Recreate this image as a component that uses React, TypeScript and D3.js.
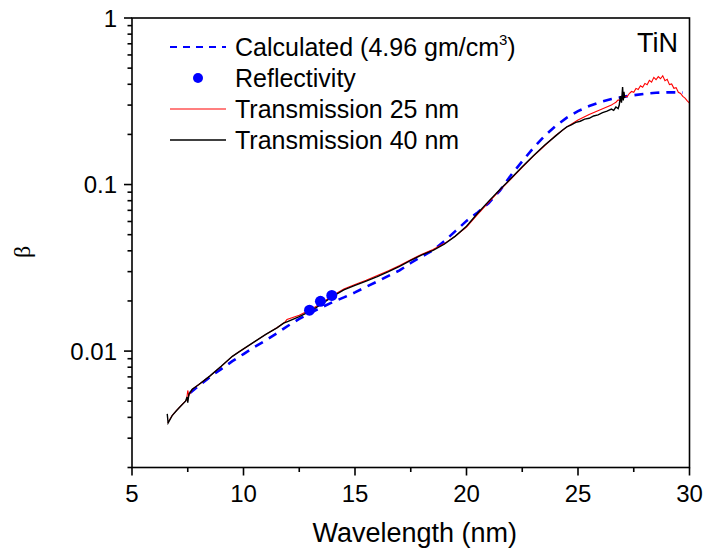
import React from "react";
import * as d3 from "d3";

const W = 706;
const H = 554;

// Transmission 25 nm (red)
const t25: [number, number][] = [
  [6.6, 0.0037], [6.8, 0.0041], [7.0, 0.0044], [7.2, 0.0047], [7.45, 0.0051], [7.5, 0.0058],
  [7.55, 0.0054], [7.7, 0.0059], [8.0, 0.0063], [8.5, 0.0071], [9.0, 0.0081], [9.5, 0.0093],
  [9.8, 0.0099], [10.0, 0.0103], [10.5, 0.0114], [11.0, 0.0126], [11.5, 0.0138], [11.85, 0.0149],
  [11.95, 0.0155], [12.5, 0.0164], [13.0, 0.0177], [13.5, 0.0194], [14.0, 0.0216], [14.5, 0.0236],
  [15.0, 0.0251], [15.5, 0.0266], [16.0, 0.0284], [16.5, 0.0304], [17.0, 0.0327], [17.5, 0.0354],
  [18.0, 0.0382], [18.5, 0.0407], [19.0, 0.0442], [19.5, 0.0490], [20.0, 0.0555], [20.5, 0.0662],
  [21.0, 0.0785], [21.5, 0.0925], [22.0, 0.108], [22.5, 0.127], [23.0, 0.148], [23.5, 0.171],
  [24.0, 0.197], [24.5, 0.222], [25.0, 0.244], [25.5, 0.263], [26.0, 0.281], [26.5, 0.300],
  [26.6, 0.306], [26.7, 0.312], [26.8, 0.322], [26.9, 0.318], [27.0, 0.333], [27.1, 0.340],
  [27.2, 0.336], [27.3, 0.352], [27.4, 0.362], [27.5, 0.358], [27.6, 0.378], [27.7, 0.372],
  [27.8, 0.392], [27.9, 0.384], [28.0, 0.405], [28.1, 0.398], [28.2, 0.422], [28.3, 0.412],
  [28.4, 0.440], [28.5, 0.426], [28.6, 0.445], [28.7, 0.432], [28.8, 0.450], [28.9, 0.420],
  [29.0, 0.428], [29.1, 0.398], [29.2, 0.402], [29.3, 0.378], [29.4, 0.382], [29.5, 0.358],
  [29.6, 0.352], [29.7, 0.338], [29.8, 0.330], [29.9, 0.318], [30.0, 0.308],
];

// Transmission 40 nm (black)
const t40: [number, number][] = [
  [6.58, 0.0042], [6.62, 0.0037], [6.8, 0.0041], [7.0, 0.0044], [7.2, 0.0047], [7.4, 0.0050],
  [7.47, 0.0053], [7.5, 0.0049], [7.55, 0.0055], [7.7, 0.0059], [8.0, 0.0063], [8.5, 0.0071],
  [9.0, 0.0081], [9.5, 0.0093], [9.8, 0.0099], [10.0, 0.0103], [10.5, 0.0114], [11.0, 0.0126],
  [11.5, 0.0138], [11.8, 0.0147], [12.0, 0.0151], [12.5, 0.0161], [13.0, 0.0174], [13.5, 0.0191],
  [14.0, 0.0213], [14.5, 0.0233], [15.0, 0.0248], [15.5, 0.0263], [16.0, 0.0280], [16.5, 0.0300],
  [17.0, 0.0323], [17.5, 0.0350], [18.0, 0.0378], [18.5, 0.0403], [19.0, 0.0438], [19.5, 0.0490],
  [20.0, 0.0562], [20.5, 0.0672], [21.0, 0.0795], [21.5, 0.0935], [22.0, 0.109], [22.5, 0.128],
  [23.0, 0.149], [23.5, 0.172], [24.0, 0.196], [24.3, 0.212], [24.5, 0.222], [24.7, 0.228],
  [24.9, 0.236], [25.1, 0.240], [25.3, 0.247], [25.5, 0.250], [25.7, 0.258], [25.9, 0.262],
  [26.1, 0.270], [26.3, 0.276], [26.5, 0.284], [26.6, 0.279], [26.7, 0.292], [26.8, 0.286],
  [26.85, 0.300], [26.9, 0.340], [26.95, 0.310], [27.0, 0.385], [27.03, 0.320], [27.06, 0.360],
  [27.1, 0.330],
];

// Calculated (4.96 gm/cm3), blue dashed
const calculated: [number, number][] = [
  [7.6, 0.0056], [8.0, 0.0062], [8.5, 0.0070], [9.0, 0.0078], [9.5, 0.0087], [10.0, 0.0096],
  [10.5, 0.0106], [11.0, 0.0116], [11.5, 0.0128], [12.0, 0.0142], [12.5, 0.0156], [13.0, 0.0170],
  [13.5, 0.0183], [14.0, 0.0197], [14.5, 0.0210], [15.0, 0.0225], [15.5, 0.0243], [16.0, 0.0262],
  [16.5, 0.0283], [17.0, 0.0305], [17.5, 0.0338], [18.0, 0.0370], [18.5, 0.0403], [19.0, 0.0456],
  [19.5, 0.0525], [20.0, 0.0605], [20.5, 0.0680], [21.0, 0.0775], [21.5, 0.0920], [22.0, 0.114],
  [22.5, 0.138], [23.0, 0.166], [23.5, 0.196], [24.0, 0.225], [24.5, 0.252], [25.0, 0.276],
  [25.5, 0.296], [26.0, 0.313], [26.5, 0.326], [27.0, 0.336], [27.5, 0.344], [28.0, 0.351],
  [28.5, 0.356], [29.0, 0.358], [29.7, 0.357],
];

// Reflectivity points
const reflectivity: [number, number][] = [
  [12.96, 0.0176], [13.45, 0.0199], [13.96, 0.0216],
];

const xMajorTicks = [5, 10, 15, 20, 25, 30];
const xMinorTicks = [7.5, 12.5, 17.5, 22.5, 27.5];
const yMajorTicks = [0.01, 0.1, 1];
const yTickLabels = ["0.01", "0.1", "1"];

const FONT = "'Liberation Sans', Arial, Helvetica, sans-serif";

export default function App() {
  const left = 132, right = 689.5, top = 18, bottom = 467.5;
  const x = d3.scaleLinear().domain([5, 30]).range([left, right]);
  const y = d3.scaleLog().domain([0.002, 1]).range([bottom, top]);

  const yMinor: number[] = [];
  [0.001, 0.01, 0.1].forEach((dec) => {
    for (let k = 2; k <= 9; k++) {
      const v = dec * k;
      if (v >= 0.002 && v < 1 && !yMajorTicks.includes(v)) yMinor.push(v);
    }
  });

  const line = d3
    .line<[number, number]>()
    .x((d) => x(d[0]))
    .y((d) => y(d[1]));

  const legendX1 = 170, legendX2 = 226, legendTextX = 235;
  const legendY = [47, 78, 109, 140];

  return (
    <svg
      width={W}
      height={H}
      style={{ position: "absolute", left: 0, top: 0, background: "#fff" }}
      fontFamily={FONT}
    >
      <rect x={0} y={0} width={W} height={H} fill="#fff" />
      <defs>
        <clipPath id="plotclip">
          <rect x={left} y={top} width={right - left} height={bottom - top} />
        </clipPath>
      </defs>

      <g clipPath="url(#plotclip)">
        <path
          d={line(calculated) || ""}
          fill="none"
          stroke="#0000ff"
          strokeWidth={2.6}
          strokeDasharray="9,7"
        />
        <path d={line(t25) || ""} fill="none" stroke="#ff0000" strokeWidth={1.1} />
        <path d={line(t40) || ""} fill="none" stroke="#000" strokeWidth={1.4} />
        {reflectivity.map((d, i) => (
          <circle key={i} cx={x(d[0])} cy={y(d[1])} r={5.5} fill="#0000ff" />
        ))}
      </g>

      {/* Frame */}
      <rect
        x={left}
        y={top}
        width={right - left}
        height={bottom - top}
        fill="none"
        stroke="#000"
        strokeWidth={1.6}
      />

      {/* X ticks */}
      {xMajorTicks.map((t) => (
        <g key={"xm" + t}>
          <line x1={x(t)} x2={x(t)} y1={bottom} y2={bottom + 8} stroke="#000" strokeWidth={1.6} />
          <text x={x(t)} y={502} fontSize={24} textAnchor="middle" fill="#000">
            {t}
          </text>
        </g>
      ))}
      {xMinorTicks.map((t) => (
        <line key={"xn" + t} x1={x(t)} x2={x(t)} y1={bottom} y2={bottom + 4.5} stroke="#000" strokeWidth={1.6} />
      ))}

      {/* Y ticks */}
      {yMajorTicks.map((t, i) => (
        <g key={"ym" + t}>
          <line x1={left - 8} x2={left} y1={y(t)} y2={y(t)} stroke="#000" strokeWidth={1.6} />
          <text x={117} y={y(t) + 8.5} fontSize={24} textAnchor="end" fill="#000">
            {yTickLabels[i]}
          </text>
        </g>
      ))}
      {yMinor.map((t) => (
        <line key={"yn" + t} x1={left - 4.5} x2={left} y1={y(t)} y2={y(t)} stroke="#000" strokeWidth={1.6} />
      ))}

      {/* Axis titles */}
      <text x={(left + right) / 2 + 4} y={542} fontSize={27} textAnchor="middle" fill="#000">
        Wavelength (nm)
      </text>
      <text
        transform={`translate(30,252) rotate(-90)`}
        fontSize={24}
        textAnchor="middle"
        fill="#000"
        style={{ fontFamily: "'Liberation Serif', serif" }}
      >
        β
      </text>

      {/* Legend */}
      <line x1={legendX1} x2={legendX2} y1={legendY[0]} y2={legendY[0]} stroke="#0000ff" strokeWidth={1.8} strokeDasharray="7,6" />
      <text x={legendTextX} y={legendY[0] + 9} fontSize={25} fill="#000">
        Calculated (4.96 gm/cm
        <tspan fontSize={15} dy={-11}>3</tspan>
        <tspan dy={11}>)</tspan>
      </text>
      <circle cx={198} cy={legendY[1]} r={5} fill="#0000ff" />
      <text x={legendTextX} y={legendY[1] + 9} fontSize={25} fill="#000">
        Reflectivity
      </text>
      <line x1={legendX1} x2={legendX2} y1={legendY[2]} y2={legendY[2]} stroke="#ff0000" strokeWidth={1.1} />
      <text x={legendTextX} y={legendY[2] + 9} fontSize={25} fill="#000">
        Transmission 25 nm
      </text>
      <line x1={legendX1} x2={legendX2} y1={legendY[3]} y2={legendY[3]} stroke="#000" strokeWidth={1.4} />
      <text x={legendTextX} y={legendY[3] + 9} fontSize={25} fill="#000">
        Transmission 40 nm
      </text>

      <text x={678} y={52} fontSize={27} textAnchor="end" fill="#000">
        TiN
      </text>
    </svg>
  );
}
